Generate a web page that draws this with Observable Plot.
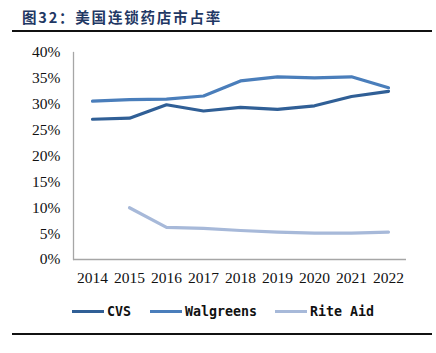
<!DOCTYPE html>
<html><head><meta charset="utf-8">
<script src="https://cdn.jsdelivr.net/npm/d3@7"></script>
<script src="https://cdn.jsdelivr.net/npm/@observablehq/plot@0.6"></script>
<style>
body{margin:0;background:#fff;}
#wrap{position:relative;width:436px;height:353px;overflow:hidden;background:#fff;}
#title{position:absolute;left:22px;top:6px;font-family:"Noto Sans CJK SC";font-weight:700;font-size:14.5px;color:#1f3864;letter-spacing:1.8px;white-space:nowrap;}
.rule{position:absolute;left:12px;width:420px;height:2px;background:#111;}
#chart{position:absolute;left:0;top:0;}
#legend{position:absolute;left:0;top:302px;width:436px;height:18px;font-family:"DejaVu Sans Mono", monospace;font-weight:700;font-size:13.3px;color:#111;}
.item{position:absolute;top:0;display:flex;align-items:center;height:18px;}
.sw{width:32px;height:3px;margin-right:3px;}
</style></head>
<body><div id="wrap">
<div id="title">图32：美国连锁药店市占率</div>
<div class="rule" style="top:30px"></div>
<div id="chart"></div>
<div id="legend"></div>
<div class="rule" style="top:333px"></div>
</div>
<script>
const years = ["2014","2015","2016","2017","2018","2019","2020","2021","2022"];
const seriesNames = ["CVS","Walgreens","Rite Aid"];
const colors = ["#305f96","#4a7ebb","#a7b9d9"];
const cvs = [27.1,27.3,29.9,28.7,29.4,29.0,29.7,31.5,32.5];
const walgreens = [30.6,30.9,31.0,31.6,34.5,35.3,35.1,35.3,33.2];
const riteAid = [null,10.0,6.2,6.0,5.6,5.3,5.1,5.1,5.3];
const yTicks = [0,5,10,15,20,25,30,35,40];

const rows = [];
[cvs, walgreens, riteAid].forEach((arr, i) => {
  arr.forEach((v, j) => { if (v != null) rows.push({series: seriesNames[i], year: years[j], value: v}); });
});

const serif = "Liberation Serif";
const chart = Plot.plot({
  width: 436,
  height: 290,
  marginLeft: 73,
  marginRight: 30,
  marginTop: 52,
  marginBottom: 31,
  style: {fontFamily: serif, fontSize: "15.5px", color: "#111", background: "transparent"},
  x: {type: "point", domain: years, padding: 0.5, label: null},
  y: {domain: [0, 40], label: null},
  color: {domain: seriesNames, range: colors},
  marks: [
    Plot.ruleY([0], {stroke: "#a6a6a6", strokeWidth: 1.3}),
    Plot.frame({anchor: "left", stroke: "#a6a6a6", strokeWidth: 1.3}),
    Plot.axisY({ticks: yTicks, tickFormat: d => d + "%", tickSize: 0, tickPadding: 13, fontSize: 15.5, fontFamily: serif}),
    Plot.axisX({tickSize: 0, tickPadding: 12, fontSize: 15.5, fontFamily: serif}),
    Plot.line(rows, {x: "year", y: "value", z: "series", stroke: "series", strokeWidth: 3.2, strokeLinejoin: "round", strokeLinecap: "round"})
  ]
});
chart.querySelectorAll("text").forEach(t => { t.style.fontFamily = "'Liberation Serif', serif"; });
chart.style.fontFamily = "'Liberation Serif', serif";
document.getElementById("chart").appendChild(chart);

const lg = document.getElementById("legend");
const lefts = [72, 150, 275];
seriesNames.forEach((s, i) => {
  const it = document.createElement("div");
  it.className = "item";
  it.style.left = lefts[i] + "px";
  const sw = document.createElement("span");
  sw.className = "sw";
  sw.style.background = colors[i];
  const t = document.createElement("span");
  t.textContent = s;
  it.appendChild(sw); it.appendChild(t);
  lg.appendChild(it);
});
</script>
</body></html>
